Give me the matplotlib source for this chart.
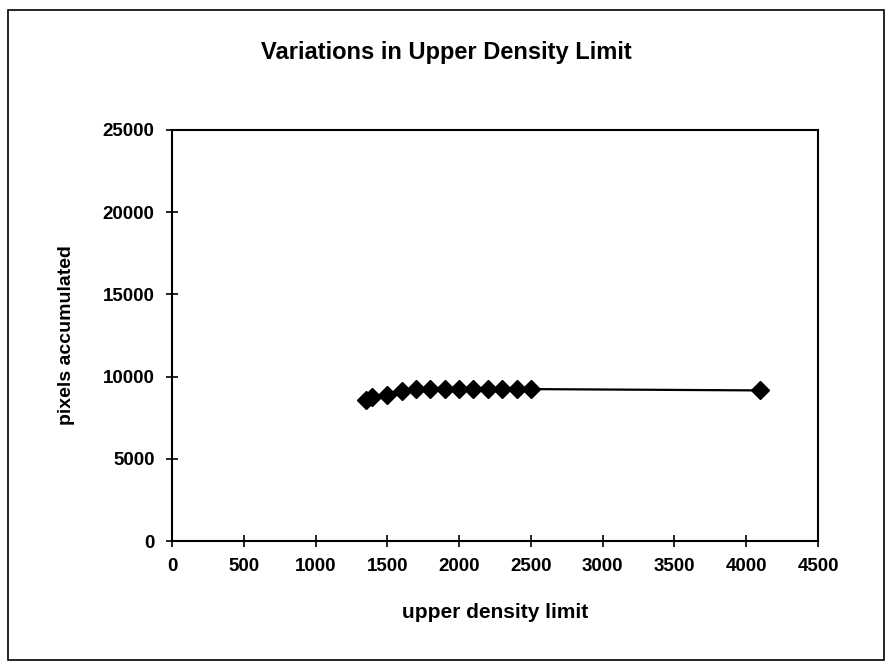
import matplotlib
matplotlib.use("Agg")
import matplotlib.pyplot as plt
from matplotlib.patches import Rectangle

plt.rcParams['font.family'] = ['Liberation Sans', 'DejaVu Sans']
plt.rcParams['font.weight'] = 'bold'

# data
upper_limit = [1350, 1390, 1500, 1600, 1700, 1800, 1900, 2000, 2100,
               2200, 2300, 2400, 2500, 4095]
pixels = [8580, 8760, 8900, 9120, 9220, 9240, 9240, 9240, 9240,
          9240, 9240, 9240, 9240, 9160]

x_ticks = [0, 500, 1000, 1500, 2000, 2500, 3000, 3500, 4000, 4500]
y_ticks = [0, 5000, 10000, 15000, 20000, 25000]

fig = plt.figure(figsize=(8.92, 6.66), dpi=100)
ax = fig.add_axes([172 / 892, 125 / 666, 646 / 892, 411 / 666])

ax.plot(upper_limit, pixels, color="black", linewidth=1.6,
        marker="D", markersize=9, markerfacecolor="black", markeredgecolor="black")

ax.set_xlim(0, 4500)
ax.set_ylim(0, 25000)
ax.set_xticks(x_ticks)
ax.set_yticks(y_ticks)
ax.tick_params(direction="inout", length=9, width=1.2, labelsize=13.5, pad=8)
for s in ax.spines.values():
    s.set_linewidth(1.5)

ax.set_xlabel("upper density limit", fontsize=15, fontweight="bold", labelpad=20)
ax.set_ylabel("pixels accumulated", fontsize=14, fontweight="bold", labelpad=20)
fig.text(0.5, 1 - 52 / 666, "Variations in Upper Density Limit",
         ha="center", va="center", fontsize=17, fontweight="bold")

# frame around whole chart
fig.patches.append(Rectangle((8 / 892, 6 / 666), 876 / 892, 650 / 666,
                             transform=fig.transFigure, fill=False,
                             edgecolor="black", linewidth=1.2))

fig.savefig("out.png", dpi=100)
plt.close()
